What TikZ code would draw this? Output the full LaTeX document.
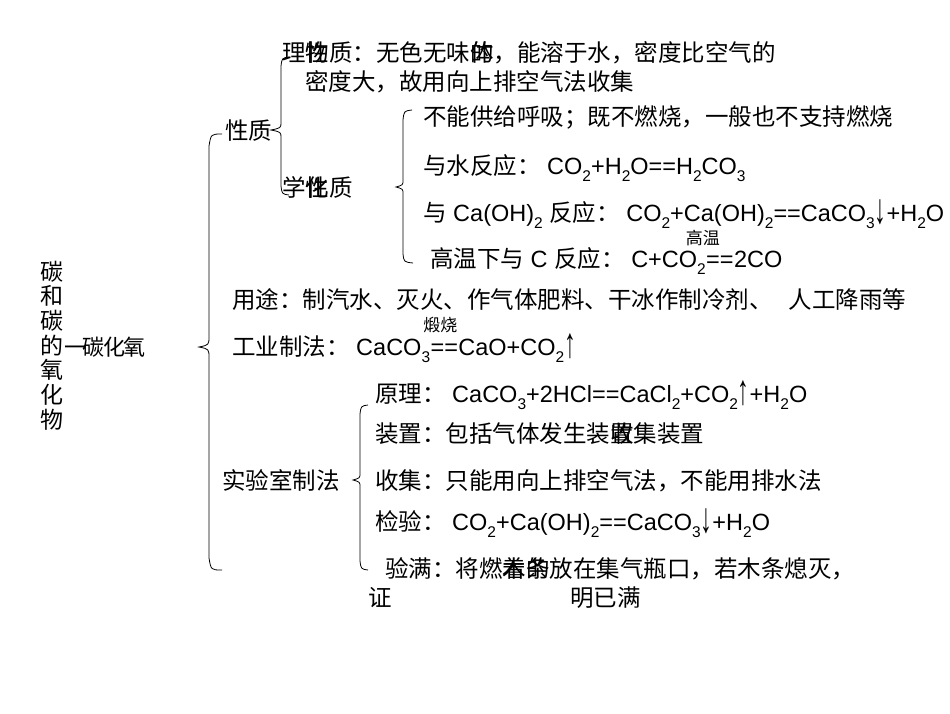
\documentclass[tikz,border=0pt]{standalone}
\usepackage{fontspec}
\setmainfont{Noto Sans CJK SC}
\newfontfamily\lat{Liberation Sans}
\newcommand\sbs[1]{\raisebox{-0.3em}{\fontsize{15.5}{16}\selectfont #1}}
\newcommand\uparr{\raisebox{-2pt}{\scalebox{1}[1.8]{↑}}}
\newcommand\dnarr{\raisebox{-2pt}{\scalebox{1}[1.8]{↓}}}
\tikzset{
  txt/.style={inner sep=0pt, anchor=base west, font=\fontsize{23.5}{28}\selectfont},
  small/.style={inner sep=0pt, anchor=base, font=\fontsize{17}{20}\selectfont},
  bracepath/.style={draw, line width=0.8pt},
}
\begin{document}
\begin{tikzpicture}[x=1pt,y=-1pt]
\useasboundingbox[fill=white] (0,0) rectangle (950,713);

% title (vertical)
\foreach \c [count=\i] in {碳,和,碳,的,氧,化,物}
  \node[txt, anchor=base, font=\fontsize{23}{26}\selectfont] (t\i) at (52,{280+24.7*(\i-1)}) {\c};
\node[txt, font=\fontsize{22}{26}\selectfont] (co2) at (64,355) {一\kern-4pt碳\kern-1pt化\kern-1.5pt氧};

% properties
\node[txt] (xz) at (225,139) {性质};
\node[txt] (phys1) at (282,61) {理\rlap{物}性质：无色无味\rlap{的}体，能溶于水，密度比空气的};
\node[txt] (phys2) at (305,90) {密度大，故用向上排空气法收集};
\node[txt] (chem) at (282,196) {学\rlap{化}性质};

\node[txt] (c1) at (423,125) {不能供给呼吸；既不燃烧，一般也不支持燃烧};
\node[txt] (c2) at (423,174) {与水反应：{\lat\ CO\sbs{2}+H\sbs{2}O==H\sbs{2}CO\sbs{3}}};
\node[txt] (c3) at (423,221) {与{\lat\ Ca(OH)\sbs{2}\ }反应：{\lat\ CO\sbs{2}+Ca(OH)\sbs{2}==CaCO\sbs{3}\dnarr+H\sbs{2}O}};
\node[txt] (c4a) at (430,267) {高温下与{\lat\ C\ }反应：{\lat\ C+CO\sbs{2}}};
\node[txt] (c4b) at (c4a.base east) {\lat ==};
\node[txt] (c4c) at (c4b.base east) {\lat 2CO};
\node[small] (gw) at ([xshift=-17pt,yshift=23pt]c4b.base) {高温};

% uses, industry
\node[txt] (use) at (232,308) {用途：制汽水、灭火、作气体肥料、干冰作制冷剂、\hspace{16pt}人工降雨等};
\node[txt] (ind) at (232,355) {工业制法：{\lat\ CaCO\sbs{3}}};
\node[txt] (inde) at (ind.base east) {\lat ==};
\node[txt] (ind2) at (inde.base east) {\lat CaO+CO\sbs{2}\uparr};
\node[small] (ds) at ([xshift=-4pt,yshift=24pt]inde.base) {煅烧};

% lab
\node[txt] (lab) at (222,489) {实验室制法};
\node[txt] (yl) at (375,402) {原理：{\lat\ CaCO\sbs{3}+2HCl==CaCl\sbs{2}+CO\sbs{2}\uparr+H\sbs{2}O}};
\node[txt] (zz) at (375,442) {装置：包括气体发生装\rlap{置}收集装置};
\node[txt] (sj) at (375,489) {收集：只能用向上排空气法，不能用排水法};
\node[txt] (jy) at (375,530) {检验：{\lat\ CO\sbs{2}+Ca(OH)\sbs{2}==CaCO\sbs{3}\dnarr+H\sbs{2}O}};
\node[txt] (ym) at (385,577) {验满：将燃\rlap{着}木\rlap{的}条放在集气瓶口，若木条熄灭，};
\node[txt] (z1) at (368,606) {证};
\node[txt] (z2) at (570,606) {明已满};

% braces
\path[bracepath] (222,134) .. controls (211,134) .. (209,146) -- (209,336)
  .. controls (209,345) .. (199,347) .. controls (209,349) .. (209,358)
  -- (209,558) .. controls (211,570) .. (222,570);
\path[bracepath] (289,57) .. controls (282,58) .. (281,66) -- (281,122)
  .. controls (281,128) .. (271,130) .. controls (281,132) .. (281,138)
  -- (281,186) .. controls (282,194) .. (289,195);
\path[bracepath] (412,110) .. controls (404,111) .. (403,120) -- (403,180)
  .. controls (403,185) .. (396,187) .. controls (403,189) .. (403,194)
  -- (403,254) .. controls (404,262) .. (413,263);
\path[bracepath] (368,405) .. controls (361,406) .. (360,414) -- (360,473)
  .. controls (360,478) .. (353,480) .. controls (360,482) .. (360,487)
  -- (360,561) .. controls (361,569) .. (368,570);
\end{tikzpicture}
\end{document}
